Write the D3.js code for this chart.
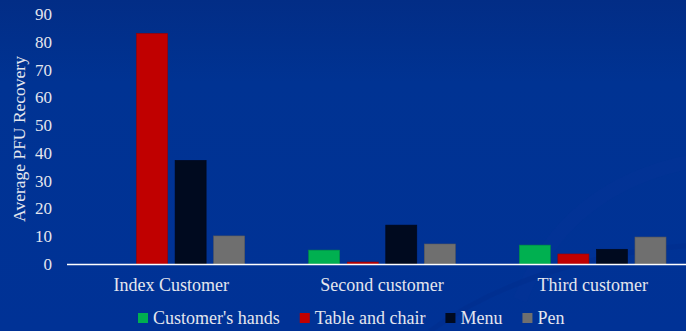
<!DOCTYPE html>
<html lang="en">
<head>
  <meta charset="UTF-8" />
  <title>Average PFU Recovery</title>
  <script src="https://d3js.org/d3.v7.min.js"></script>
  <style>
    html, body { margin: 0; padding: 0; background: #00318f; }
    svg { display: block; }
    svg text { font-family: 'Liberation Serif', 'Times New Roman', serif !important; fill: #e4e6ee; }
  </style>
</head>
<body>
  <div id="chart"></div>

  <script>
    // chart data
    var categories = ['Index Customer', 'Second customer', 'Third customer'];
    var series = ["Customer's hands", 'Table and chair', 'Menu', 'Pen'];
    var seriesColors = ['#00b050', '#c00000', '#000a1f', '#6f6f6f'];
    var values = [
      [0, 83, 37.3, 10.1],   // Index Customer
      [5.0, 0.7, 14.0, 7.2], // Second customer
      [6.8, 3.6, 5.3, 9.7]   // Third customer
    ];
    var yTicks = [0, 10, 20, 30, 40, 50, 60, 70, 80, 90];

    var width = 686, height = 331;

    var svg = d3.select('#chart')
      .append('svg')
      .attr('width', width)
      .attr('height', height);

    // background gradient
    var defs = svg.append('defs');
    var grad = defs.append('linearGradient')
      .attr('id', 'bg')
      .attr('x1', 0).attr('y1', 0).attr('x2', 0).attr('y2', 1);
    grad.append('stop').attr('offset', '0%').attr('stop-color', '#022d86');
    grad.append('stop').attr('offset', '25%').attr('stop-color', '#003393');
    grad.append('stop').attr('offset', '100%').attr('stop-color', '#003296');

    svg.append('rect')
      .attr('width', width)
      .attr('height', height)
      .attr('fill', 'url(#bg)');

    // faint decorative swooshes, bottom right
    svg.append('path')
      .attr('d', 'M520,300 C560,200 640,170 700,160')
      .attr('fill', 'none')
      .attr('stroke', '#053599')
      .attr('stroke-width', 14)
      .attr('opacity', 0.3);
    svg.append('path')
      .attr('d', 'M430,331 C500,280 600,250 700,245')
      .attr('fill', 'none')
      .attr('stroke', '#002c88')
      .attr('stroke-width', 5)
      .attr('opacity', 0.3);

    var y = d3.scaleLinear()
      .domain([0, 90])
      .range([264, 14]);

    var x0 = d3.scaleBand()
      .domain(categories)
      .range([66, 698])
      .padding(0);

    var x1 = d3.scaleBand()
      .domain(series)
      .range([0, x0.bandwidth()])
      .paddingInner(0.195)
      .paddingOuter(0.83);

    // y axis labels
    var yAxis = svg.append('g')
      .attr('transform', 'translate(56,0)')
      .call(d3.axisLeft(y).tickValues(yTicks).tickSize(0).tickPadding(4));
    yAxis.attr('font-family', null).attr('font-size', 17);
    yAxis.select('.domain').remove();
    yAxis.selectAll('text').attr('fill', '#e4e6ee');

    // bars
    var groups = svg.append('g')
      .selectAll('g')
      .data(categories)
      .join('g')
      .attr('transform', d => 'translate(' + x0(d) + ',0)');

    groups.selectAll('rect')
      .data((d, i) => series.map((s, j) => ({ s: s, v: values[i][j], c: seriesColors[j] })))
      .join('rect')
      .attr('x', d => x1(d.s))
      .attr('y', d => y(d.v))
      .attr('width', x1.bandwidth())
      .attr('height', d => y(0) - y(d.v))
      .attr('fill', d => d.c)
      .attr('stroke', d => d3.color(d.c).darker(0.6))
      .attr('stroke-width', 0.6);

    // category axis
    var xAxis = svg.append('g')
      .attr('transform', 'translate(0,' + y(0) + ')')
      .call(d3.axisBottom(x0).tickSize(0).tickPadding(14));
    xAxis.attr('font-family', null).attr('font-size', 18);
    xAxis.select('.domain')
      .attr('stroke', '#ffffff')
      .attr('stroke-width', 1.5)
      .attr('d', 'M67,0.5H686');
    xAxis.selectAll('text').attr('fill', '#e4e6ee');

    // y title
    svg.append('text')
      .attr('transform', 'translate(25,139) rotate(-90)')
      .attr('text-anchor', 'middle')
      .attr('font-size', 17.5)
      .text('Average PFU Recovery');

    // legend
    var legend = svg.append('g').attr('transform', 'translate(138,318)');
    var lx = 0;
    series.forEach((s, i) => {
      var item = legend.append('g').attr('transform', 'translate(' + lx + ',0)');
      item.append('rect')
        .attr('x', 0).attr('y', -5)
        .attr('width', 10).attr('height', 10)
        .attr('fill', seriesColors[i]);
      var t = item.append('text')
        .attr('x', 15)
        .attr('y', 6)
        .attr('font-size', 18)
        .text(s);
      lx += 15 + t.node().getComputedTextLength() + 20;
    });
  </script>
</body>
</html>
